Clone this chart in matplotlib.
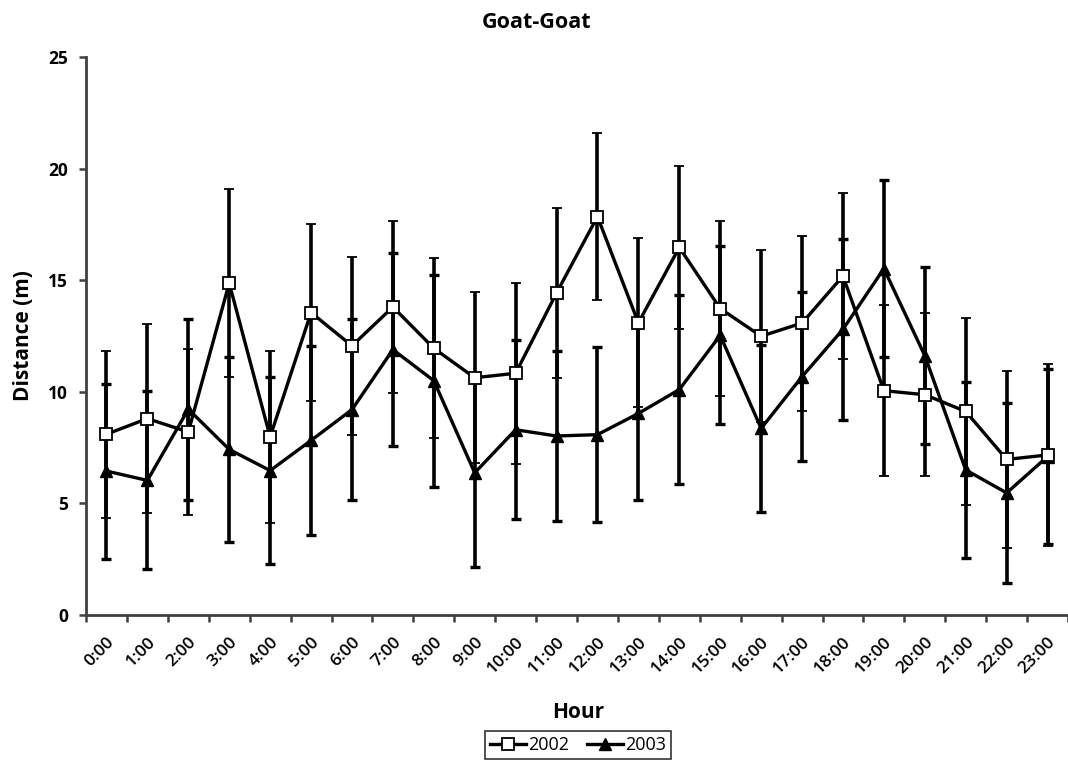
import matplotlib
matplotlib.use("Agg")
import matplotlib.pyplot as plt
from matplotlib.lines import Line2D
import numpy as np

hours = ['0:00', '1:00', '2:00', '3:00', '4:00', '5:00', '6:00', '7:00', '8:00', '9:00',
         '10:00', '11:00', '12:00', '13:00', '14:00', '15:00', '16:00', '17:00', '18:00',
         '19:00', '20:00', '21:00', '22:00', '23:00']
y2002 = [8.1, 8.8, 8.2, 14.87, 7.98, 13.55, 12.06, 13.8, 11.95, 10.63, 10.83, 14.43,
         17.85, 13.09, 16.47, 13.73, 12.49, 13.08, 15.19, 10.05, 9.87, 9.12, 6.97, 7.17]
e2002 = [3.75, 4.24, 3.7, 4.2, 3.87, 3.95, 3.98, 3.86, 4.03, 3.83, 4.05, 3.79,
         3.73, 3.78, 3.64, 3.94, 3.86, 3.92, 3.71, 3.83, 3.66, 4.2, 3.98, 4.07]
y2003 = [6.45, 6.03, 9.22, 7.42, 6.47, 7.82, 9.2, 11.89, 10.5, 6.37, 8.3, 8.02,
         8.08, 9.03, 10.1, 12.53, 8.36, 10.68, 12.8, 15.52, 11.62, 6.5, 5.47, 7.1]
e2003 = [3.92, 3.99, 4.05, 4.15, 4.18, 4.24, 4.07, 4.33, 4.75, 4.21, 4.01, 3.8,
         3.92, 3.88, 4.22, 3.98, 3.73, 3.8, 4.06, 3.98, 3.96, 3.96, 4.04, 3.9]
yticks = [0, 5, 10, 15, 20, 25]
series_names = ['2002', '2003']

plt.rcParams['font.family'] = ['Open Sans', 'DejaVu Sans']

fig = plt.figure(figsize=(10.68, 7.65), dpi=100)
ax = fig.add_axes([86/1068, 1-615/765, 982/1068, 558/765])

x = np.arange(len(hours))
ax.errorbar(x, y2002, yerr=e2002, color='black', lw=2.4, marker='s', ms=8.5,
            mfc='white', mec='black', mew=1.3, elinewidth=2.6, capsize=3.5,
            capthick=2.4, zorder=3)
ax.errorbar(x, y2003, yerr=e2003, color='black', lw=2.4, marker='^', ms=9,
            mfc='black', mec='black', elinewidth=2.6, capsize=3.5,
            capthick=2.4, zorder=2)

ax.set_xlim(-0.5, len(hours) - 0.5)
ax.set_ylim(0, 25)
ax.set_yticks(yticks)
ax.set_yticklabels([str(t) for t in yticks], fontsize=12.5, fontweight='bold')
ax.set_xticks(x)
ax.set_xticklabels(hours, rotation=45, ha='right', va='top', rotation_mode='anchor',
                   fontsize=12.5, fontweight='semibold')
ax.tick_params(axis='x', which='major', length=0, pad=14)
ax.set_xticks(np.arange(-0.5, len(hours), 1.0), minor=True)
ax.tick_params(axis='x', which='minor', length=5, width=1.8, color='#404040', direction='out')
ax.tick_params(axis='y', length=5, width=1.8, color='#404040', direction='out', pad=8)

for s in ['top', 'right']:
    ax.spines[s].set_visible(False)
for s in ['left', 'bottom']:
    ax.spines[s].set_linewidth(2)
    ax.spines[s].set_color('#404040')

ax.set_ylabel('Distance (m)', fontsize=15, fontweight='bold', labelpad=10)
fig.text(578/1068, 1-712/765, 'Hour', fontsize=15, fontweight='bold', ha='center', va='center')
fig.text(537/1068, 1-22/765, 'Goat-Goat', fontsize=15.5, fontweight='bold', ha='center', va='center')

handles = [Line2D([], [], color='black', lw=2.4, marker='s', ms=8, mfc='white', mec='black', mew=1.3),
           Line2D([], [], color='black', lw=2.4, marker='^', ms=8.5, mfc='black', mec='black')]
leg = fig.legend(handles, series_names, loc='center', bbox_to_anchor=(578/1068, 1-745/765), ncol=2,
                 frameon=True, fancybox=False, edgecolor='black', fontsize=13,
                 handlelength=2.0, handletextpad=0.1, columnspacing=1.0,
                 borderpad=0.3)
leg.get_frame().set_linewidth(1.2)

fig.savefig('out.png', dpi=100)
